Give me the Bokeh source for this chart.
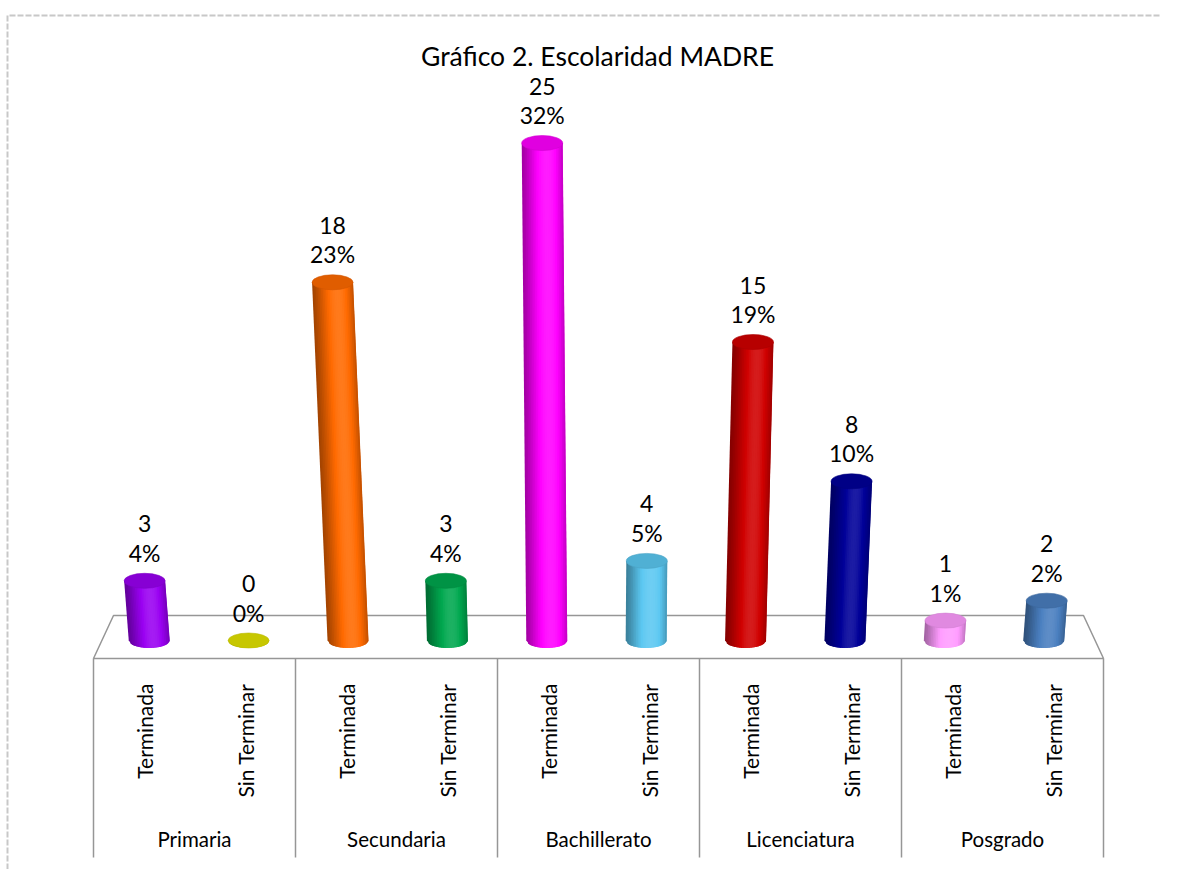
import numpy as np
from bokeh.plotting import figure
from bokeh.models import Range1d
from bokeh.core.properties import value
from bokeh.embed import file_html
from bokeh.resources import INLINE

# ---------------- data ----------------
title_text = "Gráfico 2. Escolaridad MADRE"
groups = ["Primaria", "Secundaria", "Bachillerato", "Licenciatura", "Posgrado"]
subgroups = ["Terminada", "Sin Terminar"]
counts = [3, 0, 18, 3, 25, 4, 15, 8, 1, 2]
percents = ["4%", "0%", "23%", "4%", "32%", "5%", "19%", "10%", "1%", "2%"]
colors = ["#9a00f2", "#e3e300", "#ff6a00", "#00a84f", "#ff00ff",
          "#5cc8f2", "#d00000", "#000099", "#ff9cff", "#4a7fc0"]

# ---------------- layout constants ----------------
W, H = 1161, 869
PX_X = 101.0   # px per category slot
PX_Y = 19.9    # px per count unit
LEFT = 93.0    # canvas x of first slot edge
BASE = 640.0   # canvas y of value zero
FONT = value("Lato")


def ux(px):
    return (px - LEFT) / PX_X


def uy(py):
    return (BASE - py) / PX_Y


p = figure(width=W, height=H,
           x_range=Range1d(ux(0), ux(W)), y_range=Range1d(uy(H), uy(0)),
           output_backend="svg", toolbar_location=None, min_border=0)
p.axis.visible = False
p.grid.visible = False
p.outline_line_color = None
p.background_fill_color = "white"
p.border_fill_color = "white"

cats = [(g, s) for g in groups for s in subgroups]
n = len(cats)
pos = np.arange(n) + 0.5
mid = n / 2.0

# dashed outer border (left and top)
p.line([ux(7), ux(7), ux(W)], [uy(H), uy(15), uy(15)],
       line_color="#c8c8c8", line_width=2, line_dash="6 2")

# ---------------- floor ----------------
inset = 20.0 / PX_X
floor_bot = uy(658)
floor_top = uy(615)
p.patch([0, n, n - inset, inset], [floor_bot, floor_bot, floor_top, floor_top],
        fill_color="white", line_color="#969696", line_width=1.5)

# group separators and axis labels
edges = np.arange(0, n + 1, len(subgroups))
p.segment(x0=edges, y0=[floor_bot] * len(edges), x1=edges, y1=[uy(857)] * len(edges),
          line_color="#969696", line_width=1.5)
p.text(x=pos, y=[uy(683)] * n, text=[c[1] for c in cats], angle=np.pi / 2,
       text_align="right", text_baseline="middle", text_font=FONT,
       text_font_size="21px", text_color="black")
gcent = edges[:-1] + len(subgroups) / 2.0
p.text(x=gcent, y=[uy(838)] * len(groups), text=groups,
       text_align="center", text_baseline="middle", text_font=FONT,
       text_font_size="20.5px", text_color="black")

# ---------------- cylinders ----------------
r = 20.5 / PX_X
b = 7.5 / PX_Y
persp = 0.984
vpx = 5.02
lean_k = 0.0034
NS = 24


def shade(hexcol, f):
    c = np.array([int(hexcol[i:i + 2], 16) for i in (1, 3, 5)], dtype=float)
    if f <= 1:
        c = c * f
    else:
        c = c + (255 - c) * (f - 1)
    c = np.clip(c, 0, 255).astype(int)
    return "#%02x%02x%02x" % tuple(c)


def arc(u):
    return -b * np.sqrt(max(0.0, 1 - min(u, 1.0) ** 2))


xs, ys, fills = [], [], []
tops_x = []
for i in range(n):
    h = counts[i]
    xb = mid + (pos[i] - mid) * persp - 0.02
    xt = xb + lean_k * h * (xb - vpx)
    tops_x.append(xt)
    us = np.linspace(-1, 1, NS + 1)
    du = us[1] - us[0]
    for j in range(NS):
        u0 = us[j]
        u1 = min(us[j + 1] + 0.9 * du, 1.0)  # overlap the next strip to hide seams
        t = (us[j] + 0.5 * du + 1) / 2
        f = 0.64 + 0.12 * t + 0.4 * np.sin(np.pi * t ** 1.3)
        xs.append([xb + u0 * r, xb + u1 * r, xt + u1 * r, xt + u0 * r])
        ys.append([arc(u0), arc(u1), h, h])
        fills.append(shade(colors[i], f))

p.patches(xs, ys, fill_color=fills, line_color=None)
p.ellipse(x=tops_x, y=counts, width=2 * r, height=2 * b,
          fill_color=[shade(c, 0.88) for c in colors],
          line_color=[shade(c, 0.82) for c in colors], line_width=0.6)

# data labels
cnt_y = [c + 57 / PX_Y for c in counts]
pct_y = [c + 28 / PX_Y for c in counts]
p.text(x=tops_x, y=cnt_y, text=[str(c) for c in counts], text_align="center",
       text_baseline="middle", text_font=FONT, text_font_size="23px", text_color="black")
p.text(x=tops_x, y=pct_y, text=percents, text_align="center",
       text_baseline="middle", text_font=FONT, text_font_size="23px", text_color="black")

# title
p.text(x=[ux(597)], y=[uy(55)], text=[title_text], text_align="center",
       text_baseline="middle", text_font=FONT, text_font_size="26.5px", text_color="black")

open("out.html", "w").write(file_html(p, INLINE))
